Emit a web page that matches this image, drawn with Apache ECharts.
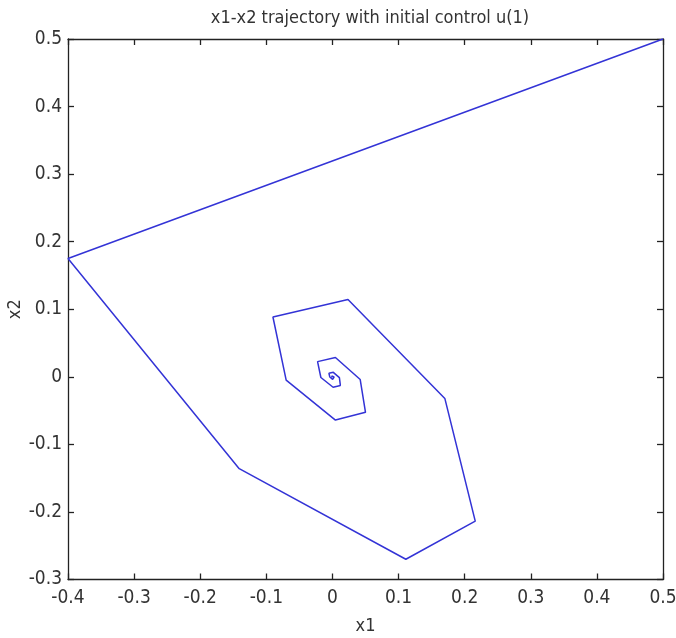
<!DOCTYPE html>
<html>
<head>
<meta charset="utf-8">
<script src="https://cdn.jsdelivr.net/npm/echarts@6/dist/echarts.min.js"></script>
<style>
  html, body { margin: 0; padding: 0; background: #ffffff; }
  #chart { width: 676px; height: 638px; }
</style>
</head>
<body>
<div id="chart"></div>
<script>
// Phase-plane trajectory (x1, x2) spiralling into the origin
const x1Values = [0.5, -0.4, -0.141, 0.111, 0.216, 0.170, 0.0235, -0.090, -0.070, 0.0045, 0.050, 0.042, 0.0045, -0.0225, -0.0175, 0.001, 0.012, 0.0105, 0.0013, -0.0053, -0.004, 0.0003, 0.0029, 0.0025, 0.0003, -0.0012, -0.001, 0.0, 0.0];
const x2Values = [0.5, 0.175, -0.136, -0.270, -0.2135, -0.032, 0.1145, 0.0885, -0.005, -0.064, -0.0525, -0.004, 0.0285, 0.0225, -0.001, -0.0155, -0.0128, -0.0012, 0.0066, 0.0053, -0.0003, -0.0037, -0.003, -0.0003, 0.0016, 0.0013, 0.0, -0.0008, 0.0];

const xTicks = [-0.4, -0.3, -0.2, -0.1, 0, 0.1, 0.2, 0.3, 0.4, 0.5];
const yTicks = [-0.3, -0.2, -0.1, 0, 0.1, 0.2, 0.3, 0.4, 0.5];

const points = x1Values.map((v, i) => [v, x2Values[i]]);

const FONT = '"Liberation Sans Narrow", "DejaVu Sans Condensed", "Liberation Sans", sans-serif';
const INK = '#222222';

function fmt(v) {
  const r = Math.round(v * 10) / 10;
  return r === 0 ? '0' : String(r);
}

const chart = echarts.init(document.getElementById('chart'), null, { renderer: 'canvas' });

const axisCommon = {
  type: 'value',
  axisLine: { show: true, onZero: false, lineStyle: { color: INK, width: 1.3 } },
  axisTick: { show: true, inside: true, length: 6, lineStyle: { color: INK, width: 1.3 } },
  splitLine: { show: false },
  axisLabel: { color: '#333333', fontFamily: FONT, fontSize: 19 },
  nameTextStyle: { color: '#333333', fontFamily: FONT, fontSize: 18 }
};

chart.setOption({
  backgroundColor: '#ffffff',
  animation: false,
  title: {
    text: 'x1-x2 trajectory with initial control u(1)',
    left: 365,
    textAlign: 'center',
    top: 4,
    textStyle: { color: '#333333', fontFamily: FONT, fontSize: 18, fontWeight: 'normal' }
  },
  grid: { left: 68, right: 13, top: 39, bottom: 58.5, containLabel: false, outerBoundsMode: 'none' },
  xAxis: [
    Object.assign({}, axisCommon, {
      min: xTicks[0], max: xTicks[xTicks.length - 1], interval: 0.1,
      position: 'bottom',
      name: 'x1', nameLocation: 'middle', nameGap: 38,
      axisLabel: Object.assign({}, axisCommon.axisLabel, { margin: 9, formatter: fmt })
    }),
    Object.assign({}, axisCommon, {
      min: xTicks[0], max: xTicks[xTicks.length - 1], interval: 0.1,
      position: 'top',
      axisLabel: { show: false }
    })
  ],
  yAxis: [
    Object.assign({}, axisCommon, {
      min: yTicks[0], max: yTicks[yTicks.length - 1], interval: 0.1,
      position: 'left',
      name: 'x2', nameLocation: 'middle', nameGap: 44, nameMoveOverlap: false,
      axisLabel: Object.assign({}, axisCommon.axisLabel, { margin: 6, formatter: fmt })
    }),
    Object.assign({}, axisCommon, {
      min: yTicks[0], max: yTicks[yTicks.length - 1], interval: 0.1,
      position: 'right',
      axisLabel: { show: false }
    })
  ],
  series: [{
    type: 'line',
    data: points,
    xAxisIndex: 0,
    yAxisIndex: 0,
    showSymbol: false,
    symbol: 'none',
    smooth: false,
    clip: false,
    lineStyle: { color: '#3333d6', width: 1.5 }
  }]
});
</script>
</body>
</html>
